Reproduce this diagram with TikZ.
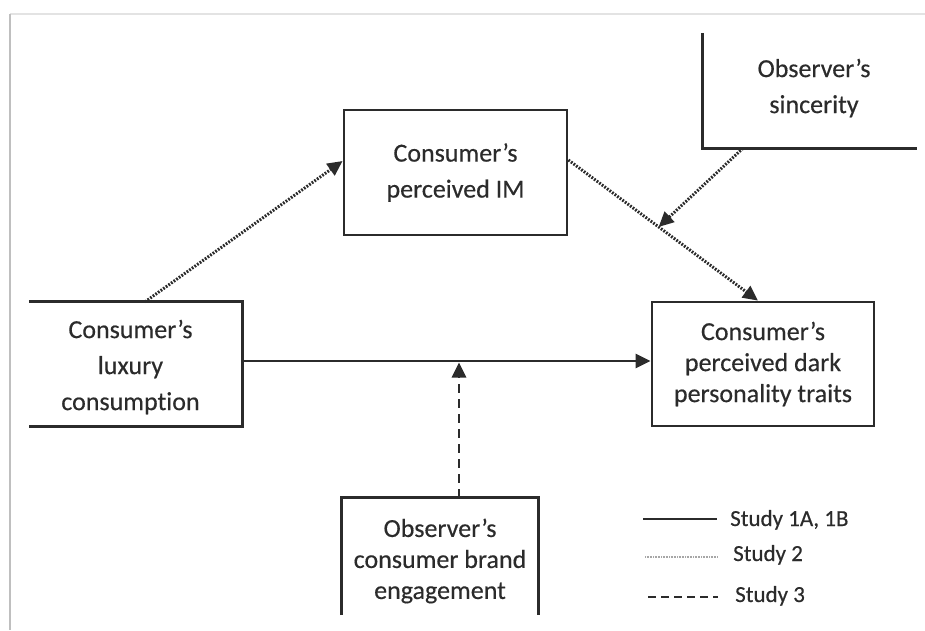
\documentclass[tikz,border=0pt]{standalone}
\usepackage{fontspec}
\setmainfont{Carlito}[Ligatures=NoCommon,FakeBold=0.4]
\usetikzlibrary{arrows.meta,calc}
\definecolor{ink}{HTML}{2B2B2B}
\begin{document}
\begin{tikzpicture}[x=1pt,y=-1pt,
  boxline/.style={draw=ink,line width=2.8pt},
  lbl/.style={text=ink,align=center,inner sep=0pt,font=\fontsize{26}{36}\selectfont},
  lbls/.style={text=ink,align=center,inner sep=0pt,font=\fontsize{26}{31}\selectfont},
  legtext/.style={text=ink,inner sep=0pt,anchor=base west,font=\fontsize{23}{28}\selectfont},
  tip/.style={-{Triangle[length=15pt,width=14pt]}},
  solidl/.style={draw=ink,line width=2.8pt},
  dotl/.style={draw=ink,line width=3pt,dash pattern=on 1.8pt off 1.4pt},
  dashl/.style={draw=ink,line width=2.8pt,dash pattern=on 9pt off 6pt},
]
\useasboundingbox (0,0) rectangle (925,630);
% frame of the screenshot
\draw[draw=gray!22,line width=1.5pt] (10,14) -- (925,14);
\draw[draw=gray!50,line width=2.5pt] (10,630) -- (10,14);

% closed boxes
\node[boxline,lbl,minimum width=223pt,minimum height=125pt] (im) at (455.5,172.5) {Consumer’s\\perceived IM};
\node[boxline,lbls,minimum width=222pt,minimum height=124pt] (dark) at (763,364) {Consumer’s\\perceived dark\\personality traits};

% boxes cut by the screenshot edge
\node[inner sep=0pt,minimum width=213pt,minimum height=124pt] (lux) at (135.5,364) {};
\draw[boxline] (lux.north west) -- (lux.north east) -- (lux.south east) -- (lux.south west);
\node[lbl] (luxt) at (130.5,367) {Consumer’s\\luxury\\consumption};

\node[inner sep=0pt,minimum width=214pt,minimum height=115pt] (sinc) at (810,90.5) {};
\draw[boxline] (sinc.north west) -- (sinc.south west) -- (sinc.south east);
\node[lbl] (sinct) at (814,88) {Observer’s\\sincerity};

\node[inner sep=0pt,minimum width=196pt,minimum height=117pt] (eng) at (440,556.5) {};
\draw[boxline] (eng.south west) -- (eng.north west) -- (eng.north east) -- (eng.south east);
\node[lbls] (engt) at (440,561) {Observer’s\\consumer brand\\engagement};

% connectors
\coordinate (luxTop) at ([xshift=9.5pt]lux.north);
\coordinate (imIn) at ([yshift=11.5pt]im.west);
\coordinate (imOut) at ([yshift=12.5pt]im.east);
\coordinate (darkIn) at ([xshift=-5pt]dark.north);
\coordinate (sincOut) at ([xshift=-67pt]sinc.south);
\coordinate (mainL) at ([yshift=3pt]lux.east);
\coordinate (mainR) at ([yshift=3pt]dark.west);
\coordinate (engTop) at ([xshift=19pt]eng.north);
\coordinate (modIM) at ($(imOut)!0.476!(darkIn)$);

\draw[dotl,tip] (luxTop) -- (imIn);
\draw[dotl,tip] (imOut) -- (darkIn);
\draw[dotl,tip] (sincOut) -- (modIM);
\draw[solidl,tip] (mainL) -- (mainR);
\draw[dashl,tip,shorten >=1.5pt] (engTop) -- (engTop |- mainL);

% legend
\coordinate (l1a) at (643,519); \coordinate (l1b) at (717,519);
\coordinate (l2a) at (645,557); \coordinate (l2b) at (718,557);
\coordinate (l3a) at (648,597); \coordinate (l3b) at (718,597);
\draw[solidl,line width=2.4pt] (l1a) -- (l1b);
\draw[draw=gray!70,line width=1.4pt,dash pattern=on 0.8pt off 0.8pt] (l2a) -- (l2b);
\draw[draw=ink,line width=2.4pt,dash pattern=on 8pt off 5pt] (l3a) -- (l3b);
\node[legtext] (leg1) at (730,526) {Study 1A, 1B};
\node[legtext] (leg2) at (733,561) {Study 2};
\node[legtext] (leg3) at (735,602) {Study 3};
\end{tikzpicture}
\end{document}
